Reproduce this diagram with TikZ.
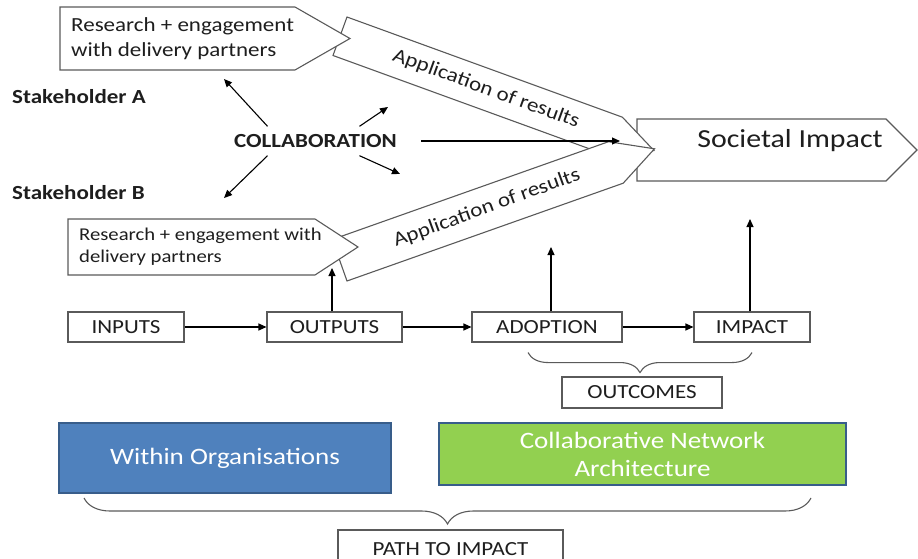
\documentclass[tikz,border=0pt]{standalone}
\usepackage{fontspec}
\setmainfont{Carlito}[FakeStretch=1.15]
\usetikzlibrary{arrows.meta, decorations.pathreplacing}

\definecolor{edge}{HTML}{5A5A5A}
\definecolor{ink}{HTML}{1E1E1E}
\definecolor{orgblue}{HTML}{4F81BD}
\definecolor{orgframe}{HTML}{385D8A}
\definecolor{netgreen}{HTML}{92D050}

\tikzset{
  outline/.style={draw=edge, line width=1.1pt, fill=white, line join=miter},
  stage/.style={draw=edge, line width=1.1pt, fill=white, minimum height=30pt, inner sep=0pt, text=ink, font=\fontsize{20}{24}\selectfont},
  link/.style={-{Triangle[length=8pt,width=7pt]}, line width=1.1pt},
  curly/.style={decorate, decoration={brace, mirror, amplitude=#1}, draw=edge, line width=1.1pt},
  block/.style={draw=orgframe, line width=2pt, text=white, inner sep=0pt, align=center, font=\fontsize{23.5}{28}\selectfont},
  words/.style={text=ink, inner sep=0pt, font=\fontsize{20}{25}\selectfont},
  heading/.style={text=ink, inner sep=0pt, font=\bfseries\fontsize{20}{24}\selectfont}
}

\begin{document}
\begin{tikzpicture}[x=1pt, y=-1pt]
    \useasboundingbox (0,0) rectangle (918,559);

    \draw[outline] (637,119) -- (886,119) -- (917,150) -- (886,181) -- (637,181) -- cycle;
    \node[words, font=\fontsize{26}{30}\selectfont] (society) at (790,141) {Societal Impact};

    \draw[outline] (347,17) -- (622.4,117.2) -- (653.9,150.5) -- (608.4,155.7) -- (333,55.5) -- cycle;
    \draw[outline] (60,7) -- (295,7) -- (350,38.5) -- (295,70) -- (60,70) -- cycle;
    \draw[outline] (347,281) -- (623.2,183.2) -- (654.5,148.8) -- (608.5,141.7) -- (332.3,239.5) -- cycle;
    \draw[outline] (68,219) -- (315,219) -- (358,247) -- (315,275) -- (68,275) -- cycle;

    \node[words, anchor=west, align=left] (researchA) at (71,38.5) {Research + engagement\\with delivery partners};
    \node[words, anchor=west, align=left, font=\fontsize{18}{22}\selectfont] (researchB) at (79,247) {Research + engagement with\\delivery partners};
    \node[words, rotate=-20] (applyA) at (486,89) {Application of results};
    \node[words, rotate=20] (applyB) at (487,208) {Application of results};

    \node[heading, anchor=west] (holderA) at (12,97) {Stakeholder A};
    \node[heading, anchor=west] (holderB) at (12,193) {Stakeholder B};
    \node[heading, minimum height=29pt] (collab) at (315.5,141) {COLLABORATION};

    \coordinate (toA) at (224,79);
    \coordinate (toB) at (224,198);
    \coordinate (toapplyA) at (388,107);
    \coordinate (toapplyB) at (400,174);
    \coordinate (tosociety) at (620,141);
    \draw[link] ([xshift=-48pt]collab.north) -- (toA);
    \draw[link] ([xshift=-48pt]collab.south) -- (toB);
    \draw[link] ([xshift=44pt]collab.north) -- (toapplyA);
    \draw[link] ([xshift=44pt]collab.south) -- (toapplyB);
    \draw[link] ([xshift=24pt]collab.east) -- (tosociety);

    \node[stage, minimum width=116pt] (inputs) at (126,327) {INPUTS};
    \node[stage, minimum width=135pt] (outputs) at (334.5,327) {OUTPUTS};
    \node[stage, minimum width=150pt] (adoption) at (547,327) {ADOPTION};
    \node[stage, minimum width=116pt] (impact) at (752,327) {IMPACT};
    \node[stage, minimum width=160pt, minimum height=31pt] (outcomes) at (642,392.5) {OUTCOMES};

    \draw[link] (inputs) -- (outputs);
    \draw[link] (outputs) -- (adoption);
    \draw[link] (adoption) -- (impact);

    \coordinate (outtip) at (332,268);
    \coordinate (adtip) at (551,247);
    \coordinate (imtip) at (750,219);
    \draw[link] (outputs.north -| outtip) -- (outtip);
    \draw[link] (adoption.north -| adtip) -- (adtip);
    \draw[link] (impact.north -| imtip) -- (imtip);

    \draw[curly=20pt] ([xshift=-19pt,yshift=-10pt]adoption.south) -- ([yshift=-10pt]impact.south);

    \node[block, fill=orgblue, minimum width=332pt, minimum height=70pt] (within) at (225,458) {Within Organisations};
    \node[block, fill=netgreen, minimum width=407pt, minimum height=62pt] (network) at (642.5,454) {Collaborative Network\\Architecture};
    \node[stage, minimum width=225pt, minimum height=38pt] (path) at (450.5,549) {PATH TO IMPACT};

    \draw[curly=26pt] ([xshift=26pt,yshift=-4pt]within.south west) -- ([xshift=-36pt,yshift=-12pt]network.south east);
\end{tikzpicture}
\end{document}
